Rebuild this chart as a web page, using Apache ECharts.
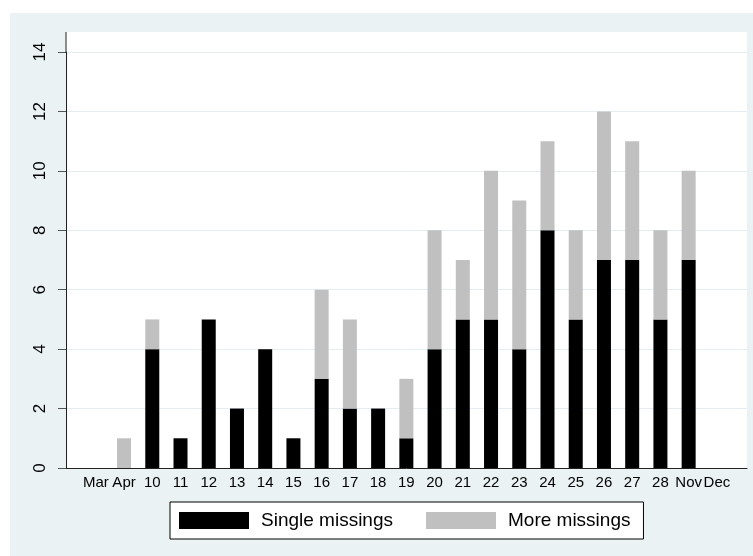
<!DOCTYPE html>
<html>
<head>
<meta charset="utf-8">
<script src="https://cdn.jsdelivr.net/npm/echarts@6/dist/echarts.min.js"></script>
<style>
  html, body { margin: 0; padding: 0; background: #fff; }
  #main { width: 753px; height: 556px; }
</style>
</head>
<body>
<div id="main"></div>
<script>
var categories = ['Mar', 'Apr', '10', '11', '12', '13', '14', '15', '16', '17', '18', '19', '20', '21', '22', '23', '24', '25', '26', '27', '28', 'Nov', 'Dec'];
var singleMissings = [0, 0, 4, 1, 5, 2, 4, 1, 3, 2, 2, 1, 4, 5, 5, 4, 8, 5, 7, 7, 5, 7, 0];
var moreMissings = [0, 1, 1, 0, 0, 0, 0, 0, 3, 3, 0, 2, 4, 2, 5, 5, 3, 3, 5, 4, 3, 3, 0];
var yTicks = [0, 14, 2]; // min, max, step

var chart = echarts.init(document.getElementById('main'));
chart.setOption({
  animation: false,
  backgroundColor: '#fff',
  graphic: [
    // outer graph region
    { type: 'rect', z: -10, shape: { x: 10, y: 13, width: 743, height: 543 }, style: { fill: '#eaf2f3' } },
    // plot region above the top tick
    { type: 'rect', z: -9, shape: { x: 66, y: 32, width: 681, height: 21 }, style: { fill: '#fff' } },
    { type: 'line', z: 5, shape: { x1: 66, y1: 32, x2: 66, y2: 53 }, style: { stroke: '#222', lineWidth: 1 } }
  ],
  grid: [
    { left: 81.7, right: 22, top: 52, bottom: 88 },
    { left: 66, right: 6, top: 52, bottom: 88, show: true, backgroundColor: '#fff', borderWidth: 0, z: -5 }
  ],
  legend: {
    left: 170,
    top: 502,
    padding: [9, 13, 9, 9],
    itemGap: 33,
    itemWidth: 70,
    itemHeight: 17,
    borderColor: '#000',
    borderWidth: 1,
    backgroundColor: '#fff',
    icon: 'rect',
    textStyle: {
      fontFamily: 'Liberation Sans, Arial, sans-serif',
      fontSize: 19,
      lineHeight: 17,
      color: '#000',
      padding: [0, 0, 0, 7]
    },
    data: ['Single missings', 'More missings']
  },
  xAxis: [
    {
      type: 'category',
      gridIndex: 0,
      data: categories,
      axisLine: { show: false },
      axisTick: { show: false },
      axisLabel: {
        interval: 0,
        margin: 7,
        fontFamily: 'Liberation Sans Narrow, Arial Narrow, Liberation Sans, sans-serif',
        fontSize: 15,
        color: '#000'
      }
    },
    {
      type: 'value',
      gridIndex: 1,
      min: 0,
      max: 1,
      axisLine: { show: true, onZero: false, lineStyle: { color: '#222', width: 1 } },
      axisTick: { show: false },
      axisLabel: { show: false },
      splitLine: { show: false }
    }
  ],
  yAxis: [
    {
      type: 'value',
      gridIndex: 0,
      min: yTicks[0],
      max: yTicks[1],
      interval: yTicks[2],
      show: false
    },
    {
      type: 'value',
      gridIndex: 1,
      min: yTicks[0],
      max: yTicks[1],
      interval: yTicks[2],
      axisLine: { show: true, lineStyle: { color: '#222', width: 1 } },
      axisTick: { show: true, length: 8, lineStyle: { color: '#555' } },
      axisLabel: {
        rotate: 90,
        margin: 17,
        fontFamily: 'Liberation Sans, Arial, sans-serif',
        fontSize: 17,
        color: '#000'
      },
      splitLine: { show: true, lineStyle: { color: '#e4eef0', width: 1 } }
    }
  ],
  series: [
    {
      name: 'Single missings',
      type: 'bar',
      xAxisIndex: 0,
      yAxisIndex: 0,
      stack: 'all',
      barWidth: 14,
      itemStyle: { color: '#000' },
      data: singleMissings
    },
    {
      name: 'More missings',
      type: 'bar',
      xAxisIndex: 0,
      yAxisIndex: 0,
      stack: 'all',
      barWidth: 14,
      itemStyle: { color: '#c0c0c0' },
      data: moreMissings
    }
  ]
});
</script>
</body>
</html>
